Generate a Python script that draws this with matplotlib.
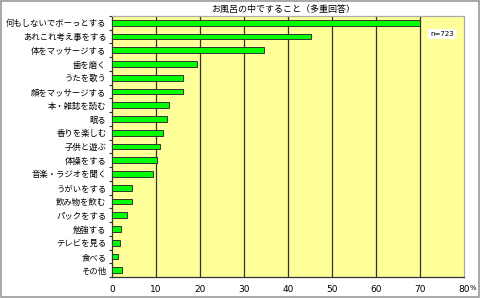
import matplotlib
matplotlib.use("Agg")
import matplotlib.pyplot as plt
from matplotlib.patches import Rectangle

plt.rcParams['font.family'] = ['Noto Sans CJK JP', 'DejaVu Sans']

categories = ["何もしないでボーっとする", "あれこれ考え事をする", "体をマッサージする", "歯を磨く",
              "うたを歌う", "顔をマッサージする", "本・雑誌を読む", "眠る", "香りを楽しむ",
              "子供と遊ぶ", "体操をする", "音楽・ラジオを聞く", "うがいをする", "飲み物を飲む",
              "パックをする", "勉強する", "テレビを見る", "食べる", "その他"]
values = [70.0, 45.2, 34.5, 19.3, 16.1, 16.1, 12.9, 12.4, 11.7, 11.0, 10.3, 9.4,
          4.6, 4.6, 3.5, 2.1, 1.9, 1.3, 2.3]
xticks = [0, 10, 20, 30, 40, 50, 60, 70, 80]
xticklabels = ["0", "10", "20", "30", "40", "50", "60", "70", "80"]
title = "お風呂の中ですること（多重回答）"
note = "n=723"

fig = plt.figure(figsize=(4.8, 2.98), dpi=100)
fig.patch.set_facecolor("white")
fig.add_artist(Rectangle((0.002, 0.003), 0.995, 0.993, transform=fig.transFigure,
                         fill=False, edgecolor="#9a9a9a", linewidth=1.2))

ax = fig.add_axes([112/480, 21/298, 352/480, 261/298])
ax.set_facecolor("#FFFF99")
n = len(categories)
ypos = list(range(n))
ax.barh(ypos, values, height=0.42, color="#00FF00", edgecolor="#333333", linewidth=0.7, zorder=3)
ax.set_ylim(n - 0.5, -0.5)
ax.set_xlim(0, 80)
ax.set_xticks(xticks)
ax.set_xticklabels(xticklabels, fontsize=6.5, family=['Liberation Sans Narrow', 'DejaVu Sans'])
ax.tick_params(axis='x', length=0, pad=6)
ax.set_yticks(ypos)
ax.set_yticklabels(categories, fontsize=6)
ax.tick_params(axis='y', length=0, pad=4)
ax.set_yticks([i + 0.5 for i in range(-1, n)], minor=True)
ax.tick_params(axis='y', which='minor', length=2.5, width=0.8, color="#333333")
for x in xticks[1:-1]:
    ax.axvline(x, color="#333333", linewidth=0.9, zorder=1)
for s in ["left", "bottom"]:
    ax.spines[s].set_color("#333333")
    ax.spines[s].set_linewidth(0.9)
for s in ["top", "right"]:
    ax.spines[s].set_color("#aaaaaa")
    ax.spines[s].set_linewidth(0.9)

fig.text(283/480, 1 - 9/298, title, ha="center", va="center", fontsize=6.5)
fig.text(469.5/480, 9.5/298, "%", ha="left", va="center", fontsize=5,
         family=['Liberation Sans Narrow', 'DejaVu Sans'])
ax.text(0.938, 0.93, note, transform=ax.transAxes, ha="center", va="center", fontsize=5,
        family=['Liberation Sans Narrow', 'DejaVu Sans'],
        bbox=dict(facecolor="white", edgecolor="none", pad=1.3))

fig.savefig("out.png", dpi=100)
